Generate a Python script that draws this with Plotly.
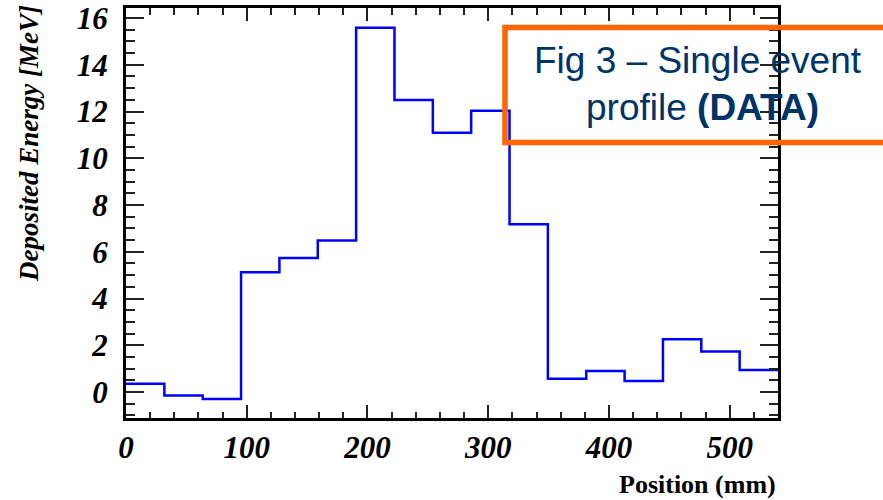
import plotly.graph_objects as go

# Histogram: 17 bins over 0-540 mm, deposited energy per bin (MeV)
bin_edges = [0.0, 31.76, 63.53, 95.29, 127.06, 158.82, 190.59, 222.35, 254.12,
             285.88, 317.65, 349.41, 381.18, 412.94, 444.71, 476.47, 508.24, 540.0]
energy = [0.36, -0.15, -0.30, 5.13, 5.74, 6.48, 15.59, 12.49, 11.09,
          12.03, 7.18, 0.57, 0.90, 0.47, 2.26, 1.73, 0.94]

x_title = "Position (mm)"
y_title = "Deposited Energy [MeV]"
note_line1 = "Fig 3 – Single event"
note_line2 = "profile <b>(DATA)</b>"

# plot-area geometry in pixels (for placing free text / shapes)
W, H = 883, 500
L, R, T, B = 126, 105, 8, 82
PW, PH = W - L - R, H - T - B


def px(x):
    return (x - L) / PW


def py(y):
    return (H - B - y) / PH


fig = go.Figure()
fig.add_trace(go.Scatter(
    x=bin_edges,
    y=energy + [energy[-1]],
    mode="lines",
    line=dict(color="#0000ff", width=2.5, shape="hv"),
    showlegend=False,
    hoverinfo="skip",
))

tick_font = dict(family="Liberation Serif", size=31, color="black",
                 weight="bold", style="italic")

fig.update_xaxes(
    range=[0, 540], tick0=0, dtick=100,
    ticks="inside", ticklen=13, tickwidth=1.5, tickcolor="#222",
    minor=dict(ticks="inside", dtick=20, ticklen=6.5, tickwidth=1.5, tickcolor="#222"),
    showline=True, linecolor="black", linewidth=3, mirror="allticks",
    showgrid=False, zeroline=False, automargin=False,
    tickfont=tick_font, ticklabelstandoff=0,
)
fig.update_yaxes(
    range=[-1.11, 16.43], tick0=0, dtick=2,
    ticks="inside", ticklen=18, tickwidth=1.5, tickcolor="#222",
    minor=dict(ticks="inside", dtick=0.5, ticklen=9, tickwidth=1.5, tickcolor="#222"),
    showline=True, linecolor="black", linewidth=3, mirror="allticks",
    showgrid=False, zeroline=False, automargin=False,
    tickfont=tick_font, ticklabelstandoff=9,
)

# orange caption frame
fig.add_shape(type="rect", xref="paper", yref="paper",
              x0=px(505), x1=px(900), y0=py(142.5), y1=py(27.5),
              line=dict(color="#ff6600", width=5.5), fillcolor="rgba(0,0,0,0)",
              layer="above")

cap_font = dict(family="Liberation Sans", size=37, color="#003366")
fig.add_annotation(text=note_line1, xref="paper", yref="paper",
                   x=px(697.5), y=py(60), xanchor="center", yanchor="middle",
                   showarrow=False, font=cap_font)
fig.add_annotation(text=note_line2, xref="paper", yref="paper",
                   x=px(702), y=py(107), xanchor="center", yanchor="middle",
                   showarrow=False, font=cap_font)

# axis titles
fig.add_annotation(text=x_title, xref="paper", yref="paper",
                   x=1, y=py(485), xanchor="right", yanchor="middle",
                   showarrow=False,
                   font=dict(family="Liberation Serif", size=26, color="black",
                             weight="bold"))
fig.add_annotation(text=y_title, xref="paper", yref="paper",
                   x=px(29), y=py(144), xanchor="center", yanchor="middle",
                   textangle=-90, showarrow=False,
                   font=dict(family="Liberation Serif", size=27, color="black",
                             weight="bold", style="italic"))

fig.update_layout(
    width=W, height=H,
    margin=dict(l=L, r=R, t=T, b=B),
    paper_bgcolor="white", plot_bgcolor="white",
)

fig.write_html("out.html")
